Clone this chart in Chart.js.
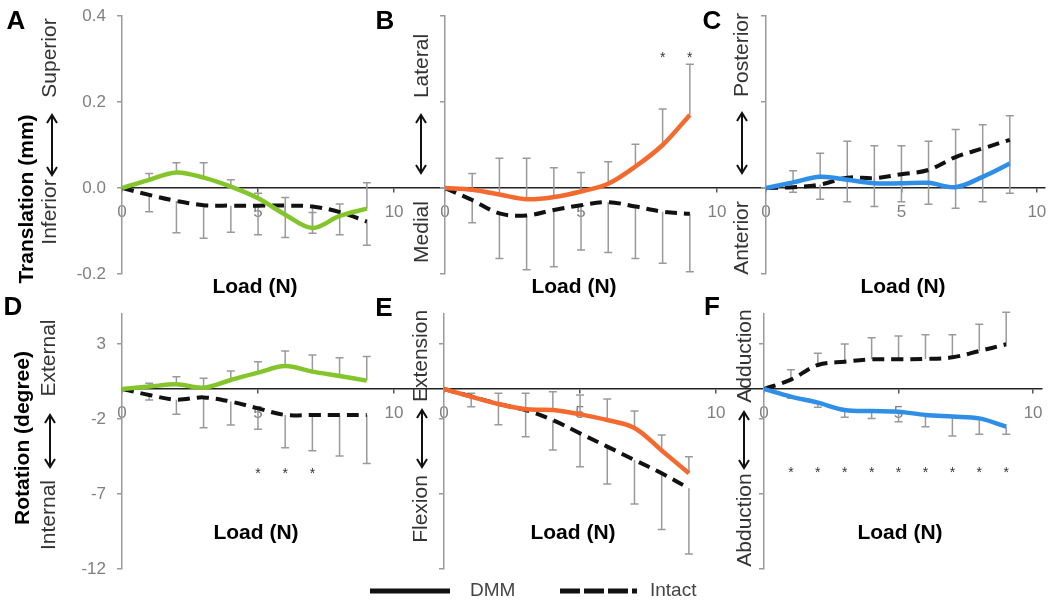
<!DOCTYPE html>
<html>
<head>
<meta charset="utf-8">
<script src="https://cdn.jsdelivr.net/npm/chart.js@4.4.1/dist/chart.umd.min.js"></script>
<style>
  html, body { margin: 0; padding: 0; background: #fff; }
  #wrap { position: relative; width: 1050px; height: 605px; overflow: hidden; }
  #wrap canvas { position: absolute; left: 0; top: 0; }
</style>
</head>
<body>
<div id="wrap">
  <canvas id="pA" width="1050" height="605"></canvas>
  <canvas id="pB" width="1050" height="605"></canvas>
  <canvas id="pC" width="1050" height="605"></canvas>
  <canvas id="pD" width="1050" height="605"></canvas>
  <canvas id="pE" width="1050" height="605"></canvas>
  <canvas id="pF" width="1050" height="605"></canvas>
</div>
<script>
// 1. data. error arrays are signed: bar end = value + err
const loads = [0, 1, 2, 3, 4, 5, 6, 7, 8, 9];
const xTicks = [0, 5, 10];
const yTicksTrans = [-0.2, 0, 0.2, 0.4];
const yRangeTrans = [-0.2, 0.4];
const yTicksRot = [-12, -7, -2, 3];
const yRangeRot = [-12, 5];

// A: superior / inferior translation
const dmmA = [0, 0.019, 0.036, 0.024, 0.003, -0.024, -0.062, -0.093, -0.065, -0.048];
const dmmErrA = [0, 0.015, 0.023, 0.035, 0.016, 0.012, 0.04, 0.036, 0.028, 0.06];
const intactA = [0, -0.016, -0.03, -0.04, -0.041, -0.041, -0.041, -0.043, -0.056, -0.078];
const intactErrA = [0, -0.039, -0.074, -0.077, -0.062, -0.068, -0.074, -0.062, -0.053, -0.055];

// B: lateral / medial translation
const dmmB = [0, -0.004, -0.015, -0.026, -0.021, -0.008, 0.01, 0.05, 0.1, 0.17];
const dmmErrB = [0, 0.038, 0.084, 0.095, 0.068, 0.044, 0.051, 0.052, 0.084, 0.118];
const intactB = [0, -0.028, -0.059, -0.064, -0.051, -0.04, -0.033, -0.043, -0.055, -0.06];
const intactErrB = [0, -0.053, -0.105, -0.126, -0.132, -0.104, -0.117, -0.121, -0.12, -0.135];
const starsB = [8, 9];
const starLevelB = 0.312;

// C: posterior / anterior translation
const dmmC = [0, 0.013, 0.026, 0.019, 0.011, 0.011, 0.012, 0.002, 0.026, 0.057];
const dmmErrC = [0, 0.027, 0.055, 0.09, 0.087, 0.087, 0.097, 0.134, 0.121, 0.111];
const intactC = [0, 0.002, 0.008, 0.024, 0.023, 0.032, 0.042, 0.072, 0.092, 0.112];
const intactErrC = [0, -0.012, -0.034, -0.056, -0.066, -0.064, -0.08, -0.119, -0.124, -0.124];

// D: external / internal rotation
const dmmD = [0, 0.16, 0.31, 0.09, 0.6, 1.09, 1.53, 1.16, 0.87, 0.56];
const dmmErrD = [0, 0.22, 0.51, 0.62, 0.6, 0.73, 1.0, 1.11, 1.22, 1.6];
const intactD = [0, -0.4, -0.71, -0.56, -0.84, -1.29, -1.73, -1.73, -1.73, -1.73];
const intactErrD = [0, -0.33, -0.98, -2.02, -1.56, -1.4, -2.18, -2.38, -2.74, -3.23];
const starsD = [5, 6, 7];
const starLevelD = -5.4;

// E: extension / flexion
const dmmE = [0, -0.51, -1.0, -1.35, -1.4, -1.69, -2.07, -2.6, -4.1, -5.62];
const dmmErrE = [0, 0.22, 0.71, 1.06, 1.22, 1.29, 1.4, 1.13, 1.03, 1.11];
const intactE = [0, -0.5, -1.0, -1.4, -2.07, -2.96, -3.84, -4.73, -5.62, -6.62];
const intactErrE = [0, -0.68, -1.38, -1.78, -2.0, -2.22, -2.49, -2.94, -3.74, -4.38];

// F: adduction / abduction
const dmmF = [0, -0.51, -0.91, -1.4, -1.47, -1.51, -1.73, -1.84, -1.96, -2.51];
const dmmErrF = [0, -0.1, -0.31, -0.49, -0.49, -0.67, -0.78, -1.29, -1.06, -0.51];
const intactF = [0, 0.62, 1.6, 1.82, 1.98, 1.98, 2.0, 2.11, 2.53, 2.98];
const intactErrF = [0, 0.67, 0.78, 1.18, 1.44, 1.55, 1.62, 1.51, 1.78, 2.13];
const starsF = [1, 2, 3, 4, 5, 6, 7, 8, 9];
const starLevelF = -5.33;

Chart.defaults.font.family = '"Liberation Sans", Arial, sans-serif';

// 2. drawing helpers
function vText(ctx, s, x, y, font, color) {
  ctx.save();
  ctx.translate(x, y);
  ctx.rotate(-Math.PI / 2);
  ctx.font = font;
  ctx.fillStyle = color;
  ctx.textAlign = 'center';
  ctx.textBaseline = 'middle';
  ctx.fillText(s, 0, 0);
  ctx.restore();
}

function hText(ctx, s, x, y, font, color, align) {
  ctx.save();
  ctx.font = font;
  ctx.fillStyle = color;
  ctx.textAlign = align || 'center';
  ctx.textBaseline = 'middle';
  ctx.fillText(s, x, y);
  ctx.restore();
}

function doubleArrow(ctx, x, y1, y2) {
  ctx.save();
  ctx.strokeStyle = '#111';
  ctx.lineWidth = 2;
  ctx.beginPath();
  ctx.moveTo(x, y1); ctx.lineTo(x, y2);
  ctx.moveTo(x - 5, y1 + 8); ctx.lineTo(x, y1); ctx.lineTo(x + 5, y1 + 8);
  ctx.moveTo(x - 5, y2 - 8); ctx.lineTo(x, y2); ctx.lineTo(x + 5, y2 - 8);
  ctx.stroke();
  ctx.restore();
}

// 3. per-panel plugin: error bars, stars, labels
function decoPlugin(p) {
  return {
    id: 'deco',
    beforeDatasetsDraw(chart) {
      const ctx = chart.ctx, xs = chart.scales.x, ys = chart.scales.y;
      ctx.save();
      ctx.strokeStyle = '#9a9a9a';
      ctx.lineWidth = 1.5;
      chart.data.datasets.forEach(ds => {
        ds.errors.forEach((e, i) => {
          if (!e) return;
          const px = xs.getPixelForValue(loads[i]);
          const y0 = ys.getPixelForValue(ds.data[i].y);
          const y1 = ys.getPixelForValue(ds.data[i].y + e);
          ctx.beginPath();
          ctx.moveTo(px, y0); ctx.lineTo(px, y1);
          ctx.moveTo(px - 4, y1); ctx.lineTo(px + 4, y1);
          ctx.stroke();
        });
      });
      ctx.restore();
    },
    afterDraw(chart) {
      const ctx = chart.ctx, xs = chart.scales.x, ys = chart.scales.y;
      // stars for significance
      (p.stars || []).forEach(s => {
        hText(ctx, '*', xs.getPixelForValue(s), ys.getPixelForValue(p.starLevel) + 4, '14px "Liberation Sans", Arial', '#333');
      });
      // panel letter
      hText(ctx, p.letter, p.letterPos[0], p.letterPos[1], 'bold 26px "Liberation Sans", Arial', '#000');
      // axis titles
      if (p.yTitle) vText(ctx, p.yTitle, p.yTitlePos[0], p.yTitlePos[1], 'bold 21px "Liberation Sans", Arial', '#000');
      hText(ctx, 'Load (N)', p.loadPos[0], p.loadPos[1], 'bold 21px "Liberation Sans", Arial', '#000');
      // direction words + arrow
      vText(ctx, p.upWord, p.dirX, p.upY, '21px "Liberation Sans", Arial', '#333');
      vText(ctx, p.downWord, p.dirX, p.downY, '21px "Liberation Sans", Arial', '#333');
      doubleArrow(ctx, p.arrowX, p.arrowY[0], p.arrowY[1]);
      // legend (drawn once, by panel E)
      if (p.legend) {
        ctx.save();
        ctx.strokeStyle = '#111';
        ctx.lineWidth = 5;
        ctx.beginPath(); ctx.moveTo(370, 591); ctx.lineTo(450, 591); ctx.stroke();
        ctx.setLineDash([20, 4]);
        ctx.beginPath(); ctx.moveTo(560, 591); ctx.lineTo(637, 591); ctx.stroke();
        ctx.restore();
        hText(ctx, 'DMM', 470, 591, '19px "Liberation Sans", Arial', '#444', 'left');
        hText(ctx, 'Intact', 650, 591, '19px "Liberation Sans", Arial', '#444', 'left');
      }
    }
  };
}

// 4. one chart per panel, each on a full-size transparent canvas
function makePanel(id, p) {
  const yt = p.rot ? yTicksRot : yTicksTrans;
  const yr = p.rot ? yRangeRot : yRangeTrans;
  return new Chart(document.getElementById(id), {
    type: 'line',
    data: {
      datasets: [
        {
          label: 'DMM',
          data: loads.map((x, i) => ({ x: x, y: p.dmm[i] })),
          errors: p.dmmErr,
          borderColor: p.color,
          borderWidth: 4.5,
          tension: 0.35,
          pointRadius: 0,
          fill: false
        },
        {
          label: 'Intact',
          data: loads.map((x, i) => ({ x: x, y: p.intact[i] })),
          errors: p.intactErr,
          borderColor: '#111',
          borderWidth: 4,
          borderDash: [12, 7],
          tension: 0.35,
          pointRadius: 0,
          fill: false
        }
      ]
    },
    options: {
      responsive: false,
      animation: false,
      devicePixelRatio: 1,
      layout: { padding: { left: p.left - 60, top: p.top, right: 1050 - p.right, bottom: 605 - p.bottom } },
      plugins: { legend: { display: false }, tooltip: { enabled: false } },
      scales: {
        x: {
          type: 'linear',
          position: { y: 0 },
          min: 0,
          max: p.xMax,
          afterBuildTicks: s => { s.ticks = xTicks.map(v => ({ value: v })); },
          afterFit: s => { s.paddingLeft = 0; s.paddingRight = 0; s.paddingTop = 0; s.paddingBottom = 0; },
          grid: { drawOnChartArea: false, color: '#555', tickLength: 4, lineWidth: 1.5 },
          border: { color: '#222', width: 1.5 },
          ticks: { color: '#7f7f7f', font: { size: 17 }, padding: 10, maxRotation: 0, autoSkip: false }
        },
        y: {
          type: 'linear',
          position: 'left',
          min: yr[0],
          max: yr[1],
          afterBuildTicks: s => { s.ticks = yt.map(v => ({ value: v })); },
          afterFit: s => { s.width = 60; s.paddingTop = 0; s.paddingBottom = 0; },
          grid: { drawOnChartArea: false, color: '#9a9a9a', tickLength: 5, lineWidth: 1.5 },
          border: { color: '#9a9a9a', width: 1.5 },
          ticks: {
            display: p.showY,
            color: '#7f7f7f',
            font: { size: 17 },
            padding: 11,
            callback: v => p.rot ? String(v) : v.toFixed(1)
          }
        }
      }
    },
    plugins: [decoPlugin(p)]
  });
}

const green = '#84c52c', orange = '#f4692e', blue = '#2f8ee6';

makePanel('pA', {
  dmm: dmmA, dmmErr: dmmErrA, intact: intactA, intactErr: intactErrA, color: green,
  left: 122, right: 445, top: 16, bottom: 274, xMax: 11.87, showY: true,
  letter: 'A', letterPos: [16, 22], yTitle: 'Translation (mm)', yTitlePos: [27, 199],
  loadPos: [255, 287], upWord: 'Superior', downWord: 'Inferior', dirX: 50, upY: 58, downY: 212,
  arrowX: 52, arrowY: [115, 175]
});
makePanel('pB', {
  dmm: dmmB, dmmErr: dmmErrB, intact: intactB, intactErr: intactErrB, color: orange,
  left: 445, right: 766, top: 16, bottom: 274, xMax: 11.8, showY: false,
  stars: starsB, starLevel: starLevelB,
  letter: 'B', letterPos: [385, 22], loadPos: [574, 287],
  upWord: 'Lateral', downWord: 'Medial', dirX: 422, upY: 66, downY: 232,
  arrowX: 421, arrowY: [115, 173]
});
makePanel('pC', {
  dmm: dmmC, dmmErr: dmmErrC, intact: intactC, intactErr: intactErrC, color: blue,
  left: 766, right: 1045, top: 16, bottom: 274, xMax: 10.3, showY: false,
  letter: 'C', letterPos: [712, 22], loadPos: [903, 287],
  upWord: 'Posterior', downWord: 'Anterior', dirX: 742, upY: 55, downY: 238,
  arrowX: 742, arrowY: [113, 173]
});
makePanel('pD', {
  dmm: dmmD, dmmErr: dmmErrD, intact: intactD, intactErr: intactErrD, color: green, rot: true,
  left: 122, right: 444, top: 314, bottom: 569, xMax: 11.84, showY: true,
  stars: starsD, starLevel: starLevelD,
  letter: 'D', letterPos: [13, 308], yTitle: 'Rotation (degree)', yTitlePos: [23, 438],
  loadPos: [256, 533], upWord: 'External', downWord: 'Internal', dirX: 49, upY: 358, downY: 515,
  arrowX: 50, arrowY: [415, 467]
});
makePanel('pE', {
  dmm: dmmE, dmmErr: dmmErrE, intact: intactE, intactErr: intactErrE, color: orange, rot: true,
  left: 444, right: 764, top: 314, bottom: 569, xMax: 11.76, showY: false,
  letter: 'E', letterPos: [384, 309], loadPos: [573, 533],
  upWord: 'Extension', downWord: 'Flexion', dirX: 421, upY: 356, downY: 509,
  arrowX: 422, arrowY: [410, 467], legend: true
});
makePanel('pF', {
  dmm: dmmF, dmmErr: dmmErrF, intact: intactF, intactErr: intactErrF, color: blue, rot: true,
  left: 764, right: 1042, top: 314, bottom: 569, xMax: 10.33, showY: false,
  stars: starsF, starLevel: starLevelF,
  letter: 'F', letterPos: [712, 308], loadPos: [900, 533],
  upWord: 'Adduction', downWord: 'Abduction', dirX: 745, upY: 356, downY: 520,
  arrowX: 744, arrowY: [412, 468]
});
</script>
</body>
</html>
